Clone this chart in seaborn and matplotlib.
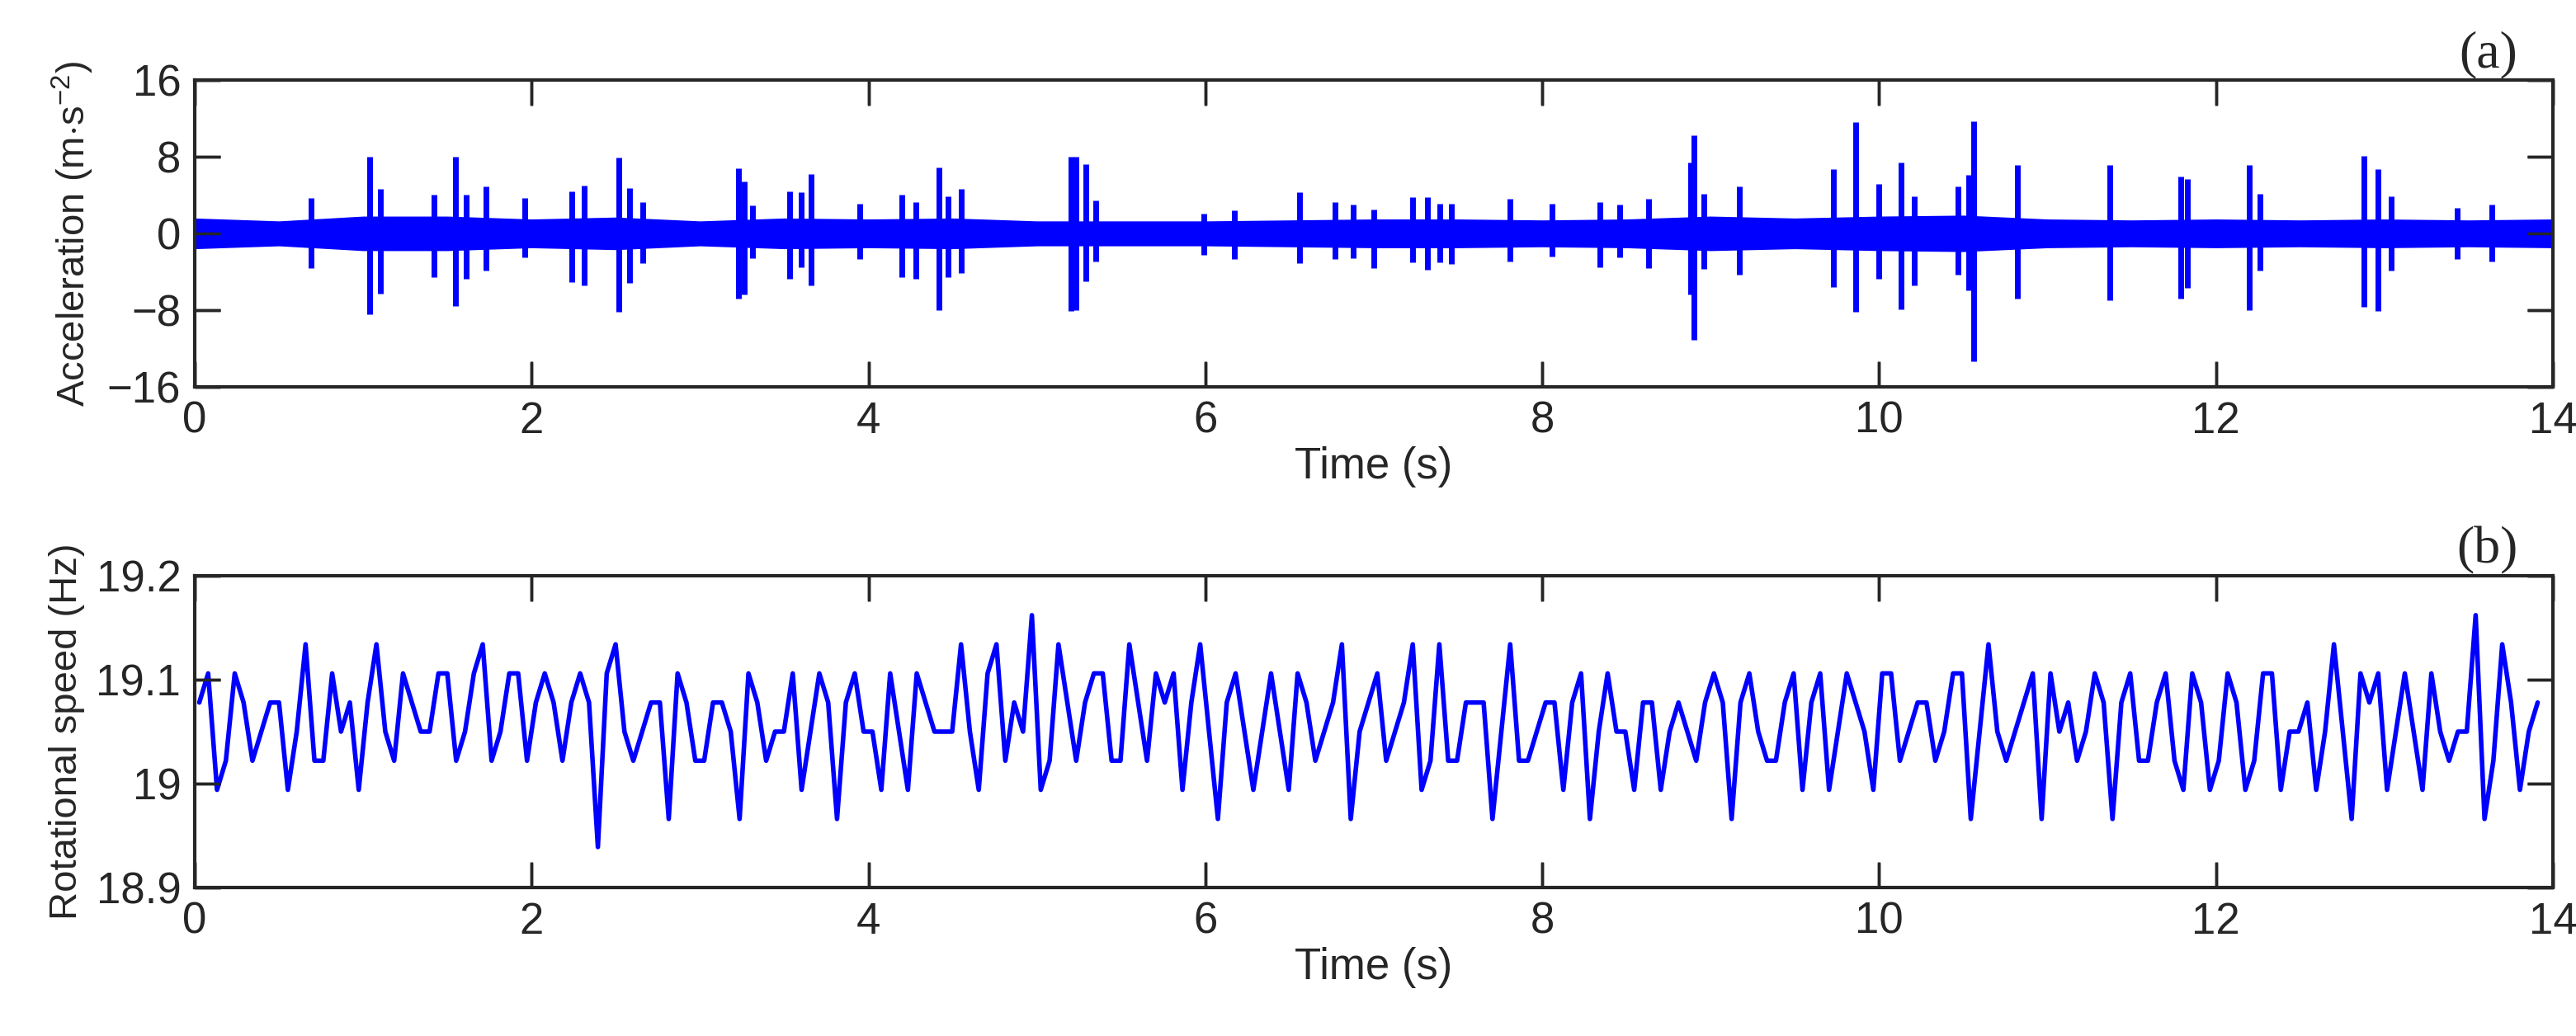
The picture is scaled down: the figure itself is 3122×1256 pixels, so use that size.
import numpy as np
import pandas as pd
import matplotlib
matplotlib.use("Agg")
import matplotlib.pyplot as plt
import matplotlib.transforms as mtransforms
import seaborn as sns

# ---------------- data ----------------
# rotational speed, quantised levels (index into speed_levels)
speed_levels = [18.939, 18.966, 18.994, 19.022, 19.050, 19.078, 19.106, 19.134, 19.162]
speed_idx = [
    5, 6, 2, 3, 6, 5, 3, 4, 5, 5, 2, 4, 7, 3, 3, 6, 4, 5, 2, 5, 7, 4, 3, 6, 5, 4, 4, 6, 6, 3,
    4, 6, 7, 3, 4, 6, 6, 3, 5, 6, 5, 3, 5, 6, 5, 0, 6, 7, 4, 3, 4, 5, 5, 1, 6, 5, 3, 3, 5, 5,
    4, 1, 6, 5, 3, 4, 4, 6,
    2, 4, 6, 5, 1, 5, 6, 4, 4, 2, 6, 4, 2, 6, 5, 4, 4, 4, 7, 4, 2, 6, 7, 3, 5, 4, 8, 2, 3, 7,
    5, 3, 5, 6, 6, 3, 3, 7, 5, 3, 6, 5, 6, 2, 5, 7, 4, 1, 5, 6, 4, 2, 4, 6, 4, 2, 6, 5, 3, 4,
    5, 7, 1, 4, 5, 6,
    3, 4, 5, 7, 2, 3, 7, 3, 3, 5, 5, 5, 1, 4, 7, 3, 3, 4, 5, 5, 2, 5, 6, 1, 4, 6, 4, 4, 2, 5,
    5, 2, 4, 5, 4, 3, 5, 6, 5, 1, 5, 6, 4, 3, 3, 5, 6, 2, 5, 6, 2, 4, 6, 5, 4, 2, 6, 6, 3, 4,
    5, 5, 3, 4, 6, 6,
    1, 4, 7, 4, 3, 4, 5, 6, 1, 6, 4, 5, 3, 4, 6, 5, 1, 5, 6, 3, 3, 5, 6, 3, 2, 6, 5, 2, 3, 6,
    5, 2, 3, 6, 6, 2, 4, 4, 5, 2, 4, 7, 4, 1, 6, 5, 6, 2, 4, 6, 4, 2, 6, 4, 3, 4, 4, 8, 1, 3,
    7, 5, 2, 4, 5,
]
speed_t_start, speed_t_end = 0.027, 13.91

# acceleration: impulsive bursts (time s, positive peak, negative peak)
burst_t = [0.69, 1.04, 1.10, 1.42, 1.55, 1.61, 1.73, 1.96, 2.24, 2.31, 2.52, 2.58, 2.66,
           3.23, 3.26, 3.31, 3.53, 3.60, 3.66, 3.95, 4.20, 4.28, 4.42, 4.47, 4.55,
           5.20, 5.23, 5.29, 5.35, 5.99, 6.17, 6.56, 6.77, 6.88, 7.00,
           7.23, 7.32, 7.39, 7.46, 7.81, 8.06, 8.34, 8.46, 8.63, 8.88, 8.90, 8.96, 9.17,
           9.73, 9.86, 10.00, 10.13, 10.21, 10.47, 10.53, 10.56, 10.82, 11.37, 11.79, 11.83,
           12.20, 12.26, 12.88, 12.96, 13.04, 13.43, 13.64]
burst_pos = [3.7, 8.0, 4.6, 4.0, 8.0, 4.0, 4.9, 3.7, 4.4, 5.0, 7.9, 4.7, 3.3,
             6.8, 5.4, 2.9, 4.4, 4.3, 6.2, 3.1, 4.0, 3.3, 6.9, 3.9, 4.6,
             8.0, 8.0, 7.2, 3.4, 2.1, 2.4, 4.3, 3.3, 3.0, 2.5,
             3.8, 3.8, 3.1, 3.1, 3.6, 3.1, 3.3, 3.0, 3.6, 7.4, 10.2, 4.1, 4.9,
             6.7, 11.6, 5.2, 7.4, 3.9, 4.9, 6.1, 11.7, 7.1, 7.1, 5.9, 5.7,
             7.1, 4.1, 8.1, 6.7, 3.9, 2.7, 3.0]
burst_neg = [-3.6, -8.4, -6.3, -4.6, -7.6, -4.7, -3.9, -2.5, -5.1, -5.4, -8.2, -5.2, -3.1,
             -6.8, -6.4, -2.6, -4.7, -3.5, -5.4, -2.7, -4.6, -4.7, -8.0, -4.6, -4.1,
             -8.1, -8.0, -5.0, -2.9, -2.2, -2.7, -3.1, -2.7, -2.6, -3.6,
             -3.0, -3.8, -3.0, -3.2, -2.9, -2.4, -3.5, -2.5, -3.6, -6.4, -11.1, -3.7, -4.3,
             -5.6, -8.2, -4.7, -7.9, -5.4, -4.3, -5.9, -13.3, -6.8, -7.0, -6.8, -5.7,
             -8.0, -3.9, -7.7, -8.1, -3.9, -2.7, -2.9]
# background vibration band (time s, half-amplitude)
band_t = [0.0, 0.5, 1.0, 1.5, 2.0, 2.5, 3.0, 3.5, 4.0, 4.5, 5.0, 5.5, 6.0, 6.5, 7.0,
          7.5, 8.0, 8.5, 9.0, 9.5, 10.0, 10.5, 11.0, 11.5, 12.0, 12.5, 13.0, 13.5, 14.0]
band_amp = [1.6, 1.3, 1.8, 1.8, 1.5, 1.7, 1.3, 1.6, 1.5, 1.6, 1.3, 1.3, 1.3, 1.4, 1.5,
            1.5, 1.4, 1.5, 1.8, 1.6, 1.8, 1.9, 1.5, 1.4, 1.5, 1.4, 1.5, 1.4, 1.5]
x_ticks = [0, 2, 4, 6, 8, 10, 12, 14]
acc_ticks = [-16, -8, 0, 8, 16]
speed_ticks = [18.9, 19.0, 19.1, 19.2]
speed_ticklabels = ["18.9", "19", "19.1", "19.2"]

# ---------------- plot ----------------
sns.set_theme(style="ticks")
plt.rcParams.update({
    "font.family": ["Liberation Sans", "DejaVu Sans"],
    "mathtext.fontset": "custom",
    "mathtext.rm": "Liberation Sans",
    "mathtext.it": "Liberation Sans:italic",
})

fig = plt.figure(figsize=(31.22, 12.56), dpi=100)
ax1 = fig.add_axes([0.0756, 0.6266, 0.9154, 0.2962])
ax2 = fig.add_axes([0.0756, 0.1433, 0.9154, 0.3010])
blue = "#0000FF"

# panel (a)
ax1.fill_between(band_t, [-a for a in band_amp], band_amp, color=blue, lw=0)
ax1.vlines(burst_t, burst_neg, burst_pos, color=blue, lw=5)
ax1.set_xlim(0, 14)
ax1.set_ylim(-16, 16)
ax1.set_yticks(acc_ticks)
ax1.set_ylabel("Acceleration (m$\\cdot$s$^{-2}$)", fontsize=34, labelpad=10)

# panel (b)
df = pd.DataFrame({
    "t": np.linspace(speed_t_start, speed_t_end, len(speed_idx)),
    "v": [speed_levels[i] for i in speed_idx],
})
sns.lineplot(data=df, x="t", y="v", ax=ax2, color=blue, lw=4)
ax2.set_xlim(0, 14)
ax2.set_ylim(18.9, 19.2)
ax2.set_yticks(speed_ticks)
ax2.set_yticklabels(speed_ticklabels)
ax2.set_ylabel("Rotational speed (Hz)", fontsize=34, labelpad=10)

tick_col = "#262626"
for ax, lab, yt in ((ax1, "(a)", acc_ticks), (ax2, "(b)", speed_ticks)):
    ax.set_xticks(x_ticks)
    ax.set_xlabel("Time (s)", fontsize=38, labelpad=4)
    ax.tick_params(which="major", direction="in", length=22, width=2.5, labelsize=38,
                   pad=12, bottom=True, left=True, top=True, right=True)
    for s in ax.spines.values():
        s.set_linewidth(3)
    # explicit inward tick marks on all four sides
    tx = mtransforms.blended_transform_factory(ax.transData, ax.transAxes)
    ty = mtransforms.blended_transform_factory(ax.transAxes, ax.transData)
    ax.vlines(x_ticks, 0, 0.08, transform=tx, color=tick_col, lw=2.5, clip_on=False, zorder=6)
    ax.vlines(x_ticks, 0.92, 1, transform=tx, color=tick_col, lw=2.5, clip_on=False, zorder=6)
    ax.hlines(yt, 0, 0.0107, transform=ty, color=tick_col, lw=2.5, clip_on=False, zorder=6)
    ax.hlines(yt, 0.9893, 1, transform=ty, color=tick_col, lw=2.5, clip_on=False, zorder=6)
    ax.text(0.985, 1.005, lab, transform=ax.transAxes, ha="right", va="bottom",
            fontsize=46, family="Liberation Serif")

fig.savefig("out.png", dpi=100)
